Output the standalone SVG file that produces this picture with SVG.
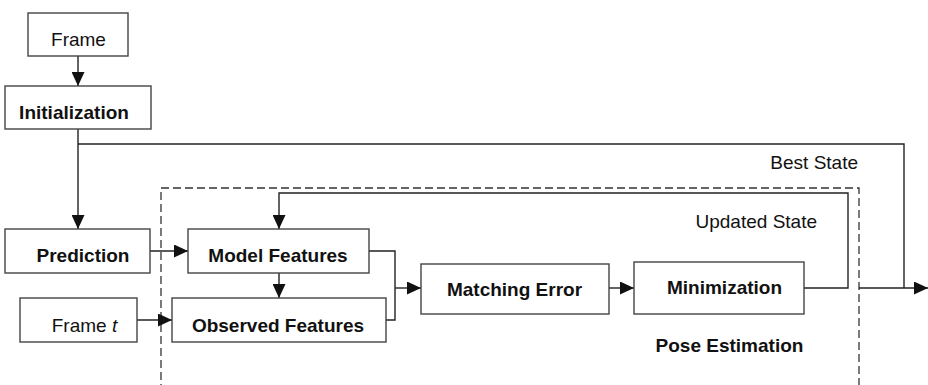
<svg xmlns="http://www.w3.org/2000/svg" width="928" height="385" viewBox="0 0 928 385">
  <defs>
    <marker id="arrow" markerUnits="userSpaceOnUse" markerWidth="14" markerHeight="13" refX="14" refY="6.5" orient="auto">
      <path d="M0,0 L14,6.5 L0,13 z" fill="#111"/>
    </marker>
    <style>
      .box { fill: #fff; stroke: #444; stroke-width: 1.4; }
      .wire { fill: none; stroke: #222; stroke-width: 1.4; }
      .dash { fill: none; stroke: #333; stroke-width: 1.3; stroke-dasharray: 8 4; }
      .lbl { font-family: "Liberation Sans", Arial, sans-serif; font-size: 19px; fill: #111; }
      .b { font-weight: bold; }
      .mid { text-anchor: middle; }
      .end { text-anchor: end; }
    </style>
  </defs>
  <rect width="928" height="385" fill="#fff"/>

  <!-- pose estimation frame -->
  <g id="pose-estimation">
    <path class="dash" d="M161,392 V188 H859 V392"/>
    <text class="lbl b mid" x="729.5" y="352">Pose Estimation</text>
  </g>

  <!-- connectors -->
  <g id="connectors">
    <line class="wire" x1="78" y1="56" x2="78" y2="86" marker-end="url(#arrow)"/>
    <line class="wire" x1="78" y1="129" x2="78" y2="229" marker-end="url(#arrow)"/>
    <polyline class="wire" points="78,144 904,144 904,288"/>
    <line class="wire" x1="859" y1="288" x2="928" y2="288" marker-end="url(#arrow)"/>
    <line class="wire" x1="150" y1="251" x2="188" y2="251" marker-end="url(#arrow)"/>
    <line class="wire" x1="279" y1="273" x2="279" y2="298" marker-end="url(#arrow)"/>
    <line class="wire" x1="137" y1="320" x2="172" y2="320" marker-end="url(#arrow)"/>
    <polyline class="wire" points="369,251 395,251 395,320 386,320"/>
    <line class="wire" x1="395" y1="288" x2="421" y2="288" marker-end="url(#arrow)"/>
    <line class="wire" x1="609" y1="288" x2="634" y2="288" marker-end="url(#arrow)"/>
    <polyline class="wire" points="804,288 848,288 848,193 279,193 279,229" marker-end="url(#arrow)"/>
    <text class="lbl end" x="858" y="169">Best State</text>
    <text class="lbl end" x="817" y="228">Updated State</text>
  </g>

  <g id="frame">
    <rect class="box" x="28" y="13" width="100" height="43"/>
    <text class="lbl mid" x="78.5" y="46">Frame</text>
  </g>
  <g id="initialization">
    <rect class="box" x="5" y="86" width="146" height="43"/>
    <text class="lbl b mid" x="74" y="119">Initialization</text>
  </g>
  <g id="prediction">
    <rect class="box" x="5" y="229" width="145" height="44"/>
    <text class="lbl b mid" x="83" y="262">Prediction</text>
  </g>
  <g id="frame-t">
    <rect class="box" x="20" y="298" width="117" height="44"/>
    <text class="lbl mid" x="84.5" y="331.5">Frame <tspan font-style="italic">t</tspan></text>
  </g>
  <g id="model-features">
    <rect class="box" x="188" y="229" width="181" height="44"/>
    <text class="lbl b mid" x="278" y="262">Model Features</text>
  </g>
  <g id="observed-features">
    <rect class="box" x="172" y="298" width="214" height="44"/>
    <text class="lbl b mid" x="278" y="331.5">Observed Features</text>
  </g>
  <g id="matching-error">
    <rect class="box" x="421" y="264" width="188" height="50"/>
    <text class="lbl b mid" x="514.5" y="296">Matching Error</text>
  </g>
  <g id="minimization">
    <rect class="box" x="634" y="262" width="170" height="52"/>
    <text class="lbl b mid" x="724.5" y="294">Minimization</text>
  </g>
</svg>
